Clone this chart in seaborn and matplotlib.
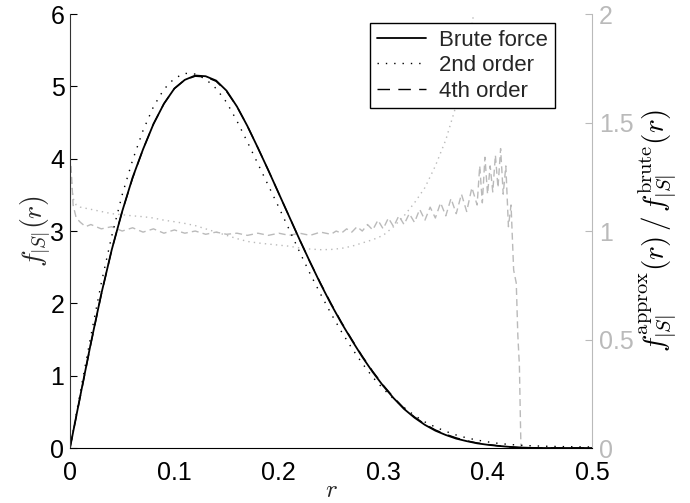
import matplotlib
matplotlib.use("Agg")
import matplotlib.pyplot as plt
import seaborn as sns
import pandas as pd

# ---------------- data ----------------
r_grid = [round(i * 0.01, 2) for i in range(51)]

brute = [0, 0.73, 1.45, 2.13, 2.74, 3.27, 3.74, 4.13, 4.48, 4.76,
         4.97, 5.09, 5.15, 5.14, 5.08, 4.94, 4.72, 4.45, 4.15, 3.84,
         3.52, 3.20, 2.88, 2.57, 2.27, 1.99, 1.73, 1.49, 1.26, 1.05,
         0.86, 0.69, 0.54, 0.42, 0.32, 0.24, 0.18, 0.13, 0.095, 0.065,
         0.045, 0.03, 0.017, 0.008, 0.003, 0, 0, 0, 0, 0, 0]

second = [0, 0.78, 1.55, 2.28, 2.93, 3.50, 3.98, 4.39, 4.72, 4.96,
          5.11, 5.18, 5.17, 5.10, 4.97, 4.78, 4.52, 4.23, 3.93, 3.63,
          3.33, 3.02, 2.71, 2.41, 2.13, 1.86, 1.61, 1.38, 1.17, 0.98,
          0.82, 0.68, 0.56, 0.45, 0.36, 0.29, 0.23, 0.18, 0.14, 0.11,
          0.085, 0.065, 0.05, 0.04, 0.032, 0.027, 0.023, 0.02, 0.018, 0.016,
          0.015]

fourth = [0, 0.72, 1.44, 2.12, 2.74, 3.27, 3.73, 4.13, 4.48, 4.76,
          4.97, 5.09, 5.14, 5.13, 5.07, 4.93, 4.72, 4.45, 4.15, 3.84,
          3.52, 3.20, 2.88, 2.57, 2.28, 2.00, 1.74, 1.50, 1.27, 1.06,
          0.87, 0.70, 0.55, 0.43, 0.33, 0.25, 0.19, 0.14, 0.10, 0.07,
          0.05, 0.03, 0.016, 0.006, 0, 0, 0, 0, 0, 0, 0]

# ratio curves (right axis)
r_ratio4 = [0.001, 0.003, 0.006, 0.01, 0.015, 0.02, 0.03, 0.04, 0.05, 0.06, 0.07,
            0.08, 0.09, 0.10, 0.11, 0.12, 0.13, 0.14, 0.15, 0.16, 0.17,
            0.18, 0.19, 0.20, 0.21, 0.22, 0.23, 0.24, 0.25, 0.255, 0.26,
            0.265, 0.27, 0.275, 0.28, 0.285, 0.29, 0.295, 0.30, 0.305, 0.31,
            0.315, 0.32, 0.325, 0.33, 0.335, 0.34, 0.345, 0.35, 0.355, 0.36,
            0.365, 0.37, 0.375, 0.38, 0.385, 0.39, 0.3925, 0.395, 0.3975, 0.40,
            0.4025, 0.405, 0.4075, 0.41, 0.4125, 0.415, 0.4175, 0.42, 0.4225, 0.425,
            0.4275, 0.429, 0.4305, 0.4315, 0.432]
ratio4 = [1.30, 1.12, 1.06, 1.04, 1.02, 1.03, 1.01, 1.02, 1.0, 1.015, 0.995,
          1.01, 0.99, 1.005, 0.99, 1.0, 0.985, 0.995, 0.985, 0.99, 0.98,
          0.99, 0.98, 0.99, 0.98, 0.99, 0.98, 0.995, 0.985, 1.0, 0.99,
          1.01, 0.995, 1.02, 1.0, 1.03, 1.005, 1.05, 1.01, 1.06, 1.02,
          1.07, 1.03, 1.08, 1.04, 1.10, 1.05, 1.11, 1.06, 1.13, 1.07,
          1.15, 1.08, 1.17, 1.09, 1.20, 1.12, 1.30, 1.13, 1.34, 1.17,
          1.30, 1.18, 1.35, 1.20, 1.38, 1.17, 1.30, 1.02, 1.12, 0.82,
          0.76, 0.52, 0.38, 0.12, 0.0]

r_ratio2 = [0.001, 0.003, 0.006, 0.01, 0.02, 0.03, 0.04, 0.05, 0.06, 0.07,
            0.08, 0.09, 0.10, 0.11, 0.12, 0.13, 0.14, 0.15, 0.16, 0.17,
            0.18, 0.19, 0.20, 0.21, 0.22, 0.23, 0.24, 0.25, 0.26, 0.27,
            0.28, 0.29, 0.30, 0.31, 0.32, 0.33, 0.34, 0.35, 0.36, 0.37,
            0.38, 0.385, 0.39, 0.40]
ratio2 = [1.25, 1.15, 1.12, 1.11, 1.10, 1.09, 1.08, 1.075, 1.07, 1.066,
          1.06, 1.05, 1.043, 1.035, 1.025, 1.01, 0.995, 0.98, 0.965, 0.952,
          0.945, 0.94, 0.935, 0.93, 0.922, 0.917, 0.914, 0.915, 0.92, 0.93,
          0.945, 0.96, 0.98, 1.02, 1.07, 1.13, 1.20, 1.30, 1.42, 1.58,
          1.80, 1.95, 2.10, 2.50]

x_ticks = [0, 0.1, 0.2, 0.3, 0.4, 0.5]
y_ticks = [0, 1, 2, 3, 4, 5, 6]
y2_ticks = [0, 0.5, 1, 1.5, 2]
y2_ticklabels = ["0", "0.5", "1", "1.5", "2"]

# ---------------- style ----------------
sns.set_style("white")
plt.rcParams["font.family"] = ["Liberation Sans", "DejaVu Sans"]
plt.rcParams["mathtext.fontset"] = "cm"
plt.rcParams["font.size"] = 16

GRAY = "#bababa"
TICK_FS = 18

fig = plt.figure(figsize=(6.9, 5.03), dpi=100)
ax = fig.add_axes([0.1014, 0.1093, 0.7565, 0.8628])
ax2 = ax.twinx()
ax.set_zorder(2)
ax2.set_zorder(1)
ax.patch.set_visible(False)

dens = pd.DataFrame({"r": r_grid, "brute": brute, "second": second, "fourth": fourth})
rat4 = pd.DataFrame({"r": r_ratio4, "v": ratio4})
rat2 = pd.DataFrame({"r": r_ratio2, "v": ratio2})

# ratio curves (gray, right axis)
sns.lineplot(data=rat2, x="r", y="v", ax=ax2, color=GRAY, lw=1.0,
             linestyle=(0, (1, 3)), estimator=None, legend=False)
sns.lineplot(data=rat4, x="r", y="v", ax=ax2, color=GRAY, lw=1.0,
             linestyle=(0, (5, 3)), estimator=None, legend=False)

# density curves (black, left axis)
sns.lineplot(data=dens, x="r", y="brute", ax=ax, color="black", lw=1.3,
             linestyle="-", estimator=None, label="Brute force")
sns.lineplot(data=dens, x="r", y="second", ax=ax, color="black", lw=1.0,
             linestyle=(0, (1, 5)), estimator=None, label="2nd order")
sns.lineplot(data=dens, x="r", y="fourth", ax=ax, color="black", lw=1.0,
             linestyle=(0, (9, 6)), estimator=None, label="4th order")

# axes limits & ticks
ax.set_xlim(0, 0.5)
ax.set_ylim(0, 6)
ax2.set_ylim(0, 2)
ax.set_xticks(x_ticks)
ax.set_xticklabels([f"{t:g}" for t in x_ticks])
ax.set_yticks(y_ticks)
ax.set_yticklabels([str(t) for t in y_ticks])
ax2.set_yticks(y2_ticks)
ax2.set_yticklabels(y2_ticklabels)

ax.tick_params(axis="both", direction="in", length=5, width=0.8,
               colors="black", labelsize=TICK_FS, pad=4)
ax.tick_params(axis="x", pad=9)
ax2.tick_params(axis="y", direction="in", length=5, width=0.8,
                colors=GRAY, labelsize=TICK_FS, pad=5)

for s in ["top", "right"]:
    ax.spines[s].set_visible(False)
for s in ["top", "left", "bottom"]:
    ax2.spines[s].set_visible(False)
ax.spines["left"].set_color("#333333")
ax.spines["bottom"].set_color("black")
ax2.spines["right"].set_color(GRAY)

ax.set_xlabel("$r$", fontsize=18, labelpad=-5)
ax.set_ylabel(r"$f_{|S|}(r)$", fontsize=20, labelpad=-1)
ax2.set_ylabel(r"$f^{\mathrm{approx}}_{|S|}(r)\,/\,f^{\mathrm{brute}}_{|S|}(r)$",
               fontsize=21, color="black", labelpad=2)

leg = ax.legend(loc="upper right", bbox_to_anchor=(0.929, 0.979),
                frameon=True, fancybox=False, edgecolor="black", framealpha=1,
                fontsize=16, handlelength=2.2, borderpad=0.3, labelspacing=0.2,
                handletextpad=0.6, borderaxespad=0)
leg.get_frame().set_linewidth(1.0)

fig.savefig("out.png", dpi=100)
